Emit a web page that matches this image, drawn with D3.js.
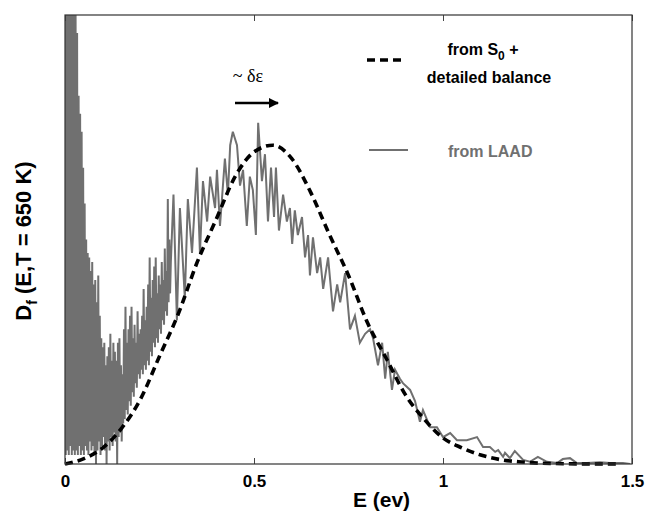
<!DOCTYPE html>
<html>
<head>
<meta charset="utf-8">
<script src="https://cdn.jsdelivr.net/npm/d3@7"></script>
<style>
  body { margin: 0; background: #fff; }
  svg text { font-family: "Liberation Sans", Arial, sans-serif; font-weight: bold; }
</style>
</head>
<body>
<svg id="chart" width="645" height="512"></svg>
<script>
// x ticks
const eTicks = [0, 0.5, 1, 1.5];
const eTickLabels = ["0", "0.5", "1", "1.5"];

// dashed curve: from S0 + detailed balance
const balanceE = [0, 0.05, 0.1, 0.15, 0.2, 0.25, 0.3, 0.35, 0.4, 0.45, 0.5, 0.55, 0.6, 0.65, 0.7,
  0.75, 0.8, 0.85, 0.9, 0.95, 1.0, 1.05, 1.1, 1.15, 1.2, 1.25, 1.3, 1.4, 1.47];
const balanceD = [0, 0.012, 0.036, 0.08, 0.145, 0.24, 0.335, 0.45, 0.545, 0.64, 0.695, 0.71, 0.68, 0.605, 0.51,
  0.42, 0.315, 0.235, 0.155, 0.1, 0.058, 0.036, 0.02, 0.01, 0.005, 0.002, 0.001, 0, 0];

// gray noisy curve: from LAAD
const laadE = [
  0.000, 0.002, 0.004, 0.006, 0.008, 0.010, 0.012, 0.014, 0.016, 0.018,
  0.020, 0.022, 0.024, 0.026, 0.028, 0.030, 0.032, 0.034, 0.036, 0.038,
  0.040, 0.042, 0.044, 0.046, 0.048, 0.050, 0.052, 0.054, 0.056, 0.058,
  0.060, 0.062, 0.064, 0.066, 0.068, 0.070, 0.072, 0.074, 0.076, 0.078,
  0.080, 0.082, 0.084, 0.086, 0.088, 0.090, 0.092, 0.094, 0.096, 0.098,
  0.100, 0.102, 0.104, 0.106, 0.108, 0.110, 0.112, 0.114, 0.116, 0.118,
  0.120, 0.122, 0.124, 0.126, 0.128, 0.130, 0.132, 0.134, 0.136, 0.138,
  0.140, 0.142, 0.144, 0.146, 0.148, 0.150, 0.152, 0.154, 0.156, 0.158,
  0.160, 0.162, 0.164, 0.166, 0.168, 0.170, 0.172, 0.174, 0.176, 0.178,
  0.180, 0.182, 0.184, 0.186, 0.188, 0.190, 0.192, 0.194, 0.196, 0.198,
  0.200, 0.202, 0.204, 0.206, 0.208, 0.210, 0.212, 0.214, 0.216, 0.218,
  0.220, 0.222, 0.224, 0.226, 0.228, 0.230, 0.232, 0.234, 0.236, 0.238,
  0.240, 0.242, 0.244, 0.246, 0.248, 0.250, 0.252, 0.254, 0.256, 0.258,
  0.260, 0.262, 0.264, 0.266, 0.268, 0.270, 0.272, 0.274, 0.276, 0.278,
  0.280, 0.287, 0.296, 0.304, 0.317, 0.325, 0.336, 0.349, 0.357, 0.365,
  0.376, 0.384, 0.397, 0.402, 0.410, 0.423, 0.431, 0.437, 0.444, 0.455,
  0.463, 0.471, 0.481, 0.489, 0.497, 0.505, 0.511, 0.521, 0.529, 0.537,
  0.545, 0.553, 0.558, 0.566, 0.577, 0.587, 0.595, 0.601, 0.608, 0.616,
  0.627, 0.635, 0.643, 0.648, 0.656, 0.667, 0.675, 0.683, 0.696, 0.709,
  0.720, 0.728, 0.741, 0.754, 0.767, 0.780, 0.794, 0.807, 0.815, 0.828,
  0.839, 0.847, 0.854, 0.865, 0.873, 0.886, 0.894, 0.913, 0.926, 0.939,
  0.947, 0.966, 0.984, 1.000, 1.019, 1.037, 1.063, 1.090, 1.106, 1.124,
  1.138, 1.146, 1.159, 1.164, 1.177, 1.190, 1.212, 1.230, 1.251, 1.275,
  1.302, 1.317, 1.336, 1.354, 1.381, 1.415, 1.442, 1.476, 1.495];
const laadD = [
  1.00, 0.02, 1.00, 0.03, 1.00, 0.02, 1.00, 0.04, 1.00, 0.02,
  1.00, 0.03, 1.00, 0.02, 1.00, 0.03, 0.96, 0.02, 0.82, 0.04,
  0.78, 0.02, 0.74, 0.03, 0.66, 0.02, 0.58, 0.04, 0.50, 0.03,
  0.47, 0.02, 0.46, 0.05, 0.43, 0.03, 0.45, 0.04, 0.40, 0.02,
  0.41, 0.00, 0.36, 0.03, 0.42, 0.05, 0.33, 0.02, 0.28, 0.04,
  0.26, 0.06, 0.27, 0.03, 0.22, 0.00, 0.24, 0.05, 0.26, 0.03,
  0.29, 0.06, 0.23, 0.04, 0.27, 0.07, 0.25, 0.05, 0.23, 0.00,
  0.27, 0.06, 0.28, 0.07, 0.22, 0.05, 0.20, 0.09, 0.30, 0.10,
  0.35, 0.12, 0.27, 0.11, 0.30, 0.14, 0.33, 0.13, 0.35, 0.16,
  0.28, 0.15, 0.31, 0.18, 0.27, 0.17, 0.34, 0.20, 0.29, 0.19,
  0.30, 0.21, 0.33, 0.20, 0.39, 0.22, 0.32, 0.21, 0.35, 0.23,
  0.40, 0.22, 0.46, 0.25, 0.37, 0.24, 0.41, 0.27, 0.44, 0.26,
  0.46, 0.28, 0.38, 0.27, 0.42, 0.30, 0.40, 0.29, 0.45, 0.32,
  0.41, 0.31, 0.48, 0.34, 0.43, 0.33, 0.59, 0.36, 0.50, 0.38,
  0.45, 0.60, 0.32, 0.57, 0.37, 0.59, 0.47, 0.66, 0.47, 0.63,
  0.54, 0.64, 0.57, 0.655, 0.53, 0.68, 0.60, 0.71, 0.74, 0.71,
  0.62, 0.655, 0.53, 0.64, 0.61, 0.51, 0.76, 0.63, 0.69, 0.54,
  0.66, 0.55, 0.66, 0.52, 0.60, 0.54, 0.57, 0.49, 0.565, 0.51,
  0.55, 0.46, 0.51, 0.42, 0.505, 0.425, 0.46, 0.39, 0.46, 0.34,
  0.40, 0.36, 0.425, 0.30, 0.33, 0.27, 0.29, 0.30, 0.28, 0.22,
  0.27, 0.19, 0.25, 0.165, 0.21, 0.19, 0.18, 0.165, 0.14, 0.094,
  0.12, 0.082, 0.082, 0.06, 0.069, 0.053, 0.053, 0.06, 0.038, 0.038,
  0.027, 0.031, 0.016, 0.025, 0.013, 0.029, 0.009, 0.005, 0.016, 0.005,
  0.002, 0.011, 0.013, 0.002, 0.002, 0.004, 0.002, 0.002, 0.0];

let svg = d3.select("#chart"),
    margin = {top: 15, right: 13, bottom: 48, left: 65},
    width = svg.attr("width") - margin.left - margin.right,
    height = svg.attr("height") - margin.top - margin.bottom,
    g = svg.append("g").attr("transform", "translate(" + margin.left + "," + margin.top + ")");

let x = d3.scaleLinear().domain([0, 1.5]).range([0, width]),
    y = d3.scaleLinear().domain([0, 1]).range([height, 0]);

svg.append("defs").append("clipPath").attr("id", "plotclip")
  .append("rect").attr("width", width).attr("height", height);

svg.select("defs").append("marker")
  .attr("id", "head").attr("viewBox", "0 0 10 10")
  .attr("refX", 9).attr("refY", 5)
  .attr("markerWidth", 4).attr("markerHeight", 4)
  .attr("orient", "auto")
  .append("path").attr("d", "M0,0 L10,5 L0,10 Z").attr("fill", "#000");

// gray LAAD curve
let laad = laadE.map(function(e, i) { return [e, laadD[i]]; });
g.append("path")
  .datum(laad)
  .attr("clip-path", "url(#plotclip)")
  .attr("fill", "none")
  .attr("stroke", "#707070")
  .attr("stroke-width", 2)
  .attr("d", d3.line().x(function(d) { return x(d[0]); }).y(function(d) { return y(d[1]); }));

// dashed balance curve
let balance = balanceE.map(function(e, i) { return [e, balanceD[i]]; });
g.append("path")
  .datum(balance)
  .attr("fill", "none")
  .attr("stroke", "#000")
  .attr("stroke-width", 3.6)
  .attr("stroke-dasharray", "8,5")
  .attr("d", d3.line().curve(d3.curveMonotoneX)
    .x(function(d) { return x(d[0]); }).y(function(d) { return y(d[1]); }));

// axes: matlab style, ticks pointing in
g.append("g")
  .attr("class", "x-axis")
  .attr("transform", "translate(0," + height + ")")
  .call(d3.axisBottom(x).tickValues(eTicks)
    .tickFormat(function(d, i) { return eTickLabels[i]; })
    .tickSizeInner(-6).tickSizeOuter(0).tickPadding(11))
  .call(function(a) {
    a.select(".domain").remove();
    a.selectAll("line").attr("stroke", "#444");
    a.selectAll("text").style("font-size", "17px").attr("fill", "#000");
  });

g.append("g")
  .attr("class", "x-axis-top")
  .call(d3.axisTop(x).tickValues(eTicks).tickFormat("").tickSizeInner(-6).tickSizeOuter(0))
  .call(function(a) {
    a.select(".domain").remove();
    a.selectAll("line").attr("stroke", "#444");
  });

g.append("rect")
  .attr("width", width).attr("height", height)
  .attr("fill", "none").attr("stroke", "#333").attr("stroke-width", 1.2);

// axis titles
svg.append("text")
  .attr("x", margin.left + width / 2 + 33)
  .attr("y", 507)
  .attr("text-anchor", "middle")
  .style("font-size", "21px")
  .text("E (ev)");

let ylab = svg.append("text")
  .attr("transform", "translate(31,241) rotate(-90)")
  .attr("text-anchor", "middle")
  .style("font-size", "22px");
ylab.append("tspan").text("D");
ylab.append("tspan").attr("dy", 6).style("font-size", "14px").text("f");
ylab.append("tspan").attr("dy", -6).text(" (E,T = 650 K)");

// legend
let legend = svg.append("g").attr("class", "legend");
legend.append("line")
  .attr("x1", 367).attr("x2", 402).attr("y1", 60).attr("y2", 60)
  .attr("stroke", "#000").attr("stroke-width", 3.6).attr("stroke-dasharray", "8,5");
let l1 = legend.append("text").attr("x", 483).attr("y", 55)
  .attr("text-anchor", "middle").style("font-size", "16px");
l1.append("tspan").text("from S");
l1.append("tspan").attr("dy", 5).style("font-size", "12px").text("0");
l1.append("tspan").attr("dy", -5).text(" +");
legend.append("text").attr("x", 489).attr("y", 83)
  .attr("text-anchor", "middle").style("font-size", "16px")
  .text("detailed balance");

legend.append("line")
  .attr("x1", 369).attr("x2", 408).attr("y1", 150).attr("y2", 150)
  .attr("stroke", "#707070").attr("stroke-width", 2);
legend.append("text").attr("x", 448).attr("y", 157)
  .style("font-size", "16px").attr("fill", "#707070")
  .text("from LAAD");

// shift annotation
svg.append("text")
  .attr("x", 248).attr("y", 82)
  .attr("text-anchor", "middle")
  .style("font-family", "'Liberation Serif', 'DejaVu Serif', serif")
  .style("font-weight", "normal")
  .style("font-size", "18px")
  .text("~ \u03b4\u03b5");
svg.append("line")
  .attr("x1", 235).attr("x2", 278).attr("y1", 103).attr("y2", 103)
  .attr("stroke", "#000").attr("stroke-width", 2.6)
  .attr("marker-end", "url(#head)");
</script>
</body>
</html>
